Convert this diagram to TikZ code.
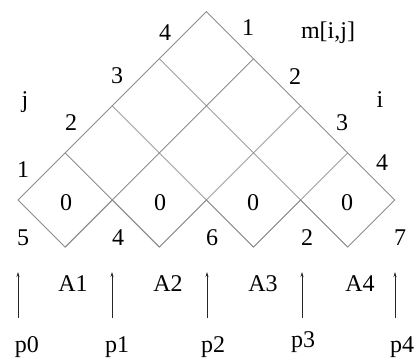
\documentclass[tikz,border=0pt]{standalone}
\usepackage{fontspec}
\setmainfont{Liberation Serif}
\usetikzlibrary{arrows.meta}
\begin{document}
\begin{tikzpicture}[x=1pt,y=-1pt,
  gridline/.style={draw=black!45,line width=0.8pt},
  lbl/.style={font=\fontsize{24}{26}\selectfont,inner sep=0pt,text=black},
  parrow/.style={draw=black!85,line width=1pt,-{Stealth[length=5pt,width=3pt]}}]
\useasboundingbox (0,0) rectangle (418,361);
% grid vertices: (18+47.1u, 200-47.1v)
\foreach \u/\v/\n in {0/0/a0,1/-1/b1,2/0/a2,3/-1/b3,4/0/a4,5/-1/b5,6/0/a6,7/-1/b7,8/0/a8,
  1/1/l1,2/2/l2,3/3/l3,4/4/top,5/3/r3,6/2/r2,7/1/r1}
  \coordinate (\n) at ({18+47.1*\u},{200-47.1*\v});
% outline and zigzag
\draw[gridline] (a0) -- (top) -- (a8) -- (b7) -- (a6) -- (b5) -- (a4) -- (b3) -- (a2) -- (b1) -- cycle;
% interior lines
\draw[gridline] (b1) -- (r3);
\draw[gridline] (b3) -- (r2);
\draw[gridline] (b5) -- (r1);
\draw[gridline] (l1) -- (b3);
\draw[gridline] (l2) -- (b5);
\draw[gridline] (l3) -- (b7);
% left labels
\node[lbl] (jl) at (25,102) {j};
\node[lbl] (j1) at (23,170) {1};
\node[lbl] (j2) at (71,123) {2};
\node[lbl] (j3) at (117,76) {3};
\node[lbl] (j4) at (165,33) {4};
% right labels
\node[lbl] (il) at (380,100) {i};
\node[lbl] (mij) at (328,33) {m[i,j]};
\node[lbl] (i1) at (248,28) {1};
\node[lbl] (i2) at (295,77) {2};
\node[lbl] (i3) at (342,123) {3};
\node[lbl] (i4) at (382,163) {4};
% zeros
\node[lbl] (z1) at (66,203) {0};
\node[lbl] (z2) at (160,203) {0};
\node[lbl] (z3) at (253,203) {0};
\node[lbl] (z4) at (347,203) {0};
% dimensions
\node[lbl] (d0) at (23,238) {5};
\node[lbl] (d1) at (118,238) {4};
\node[lbl] (d2) at (212,238) {6};
\node[lbl] (d3) at (307,238) {2};
\node[lbl] (d4) at (400,238) {7};
% matrices
\node[lbl] (A1) at (73,284) {A1};
\node[lbl] (A2) at (168,284) {A2};
\node[lbl] (A3) at (263,284) {A3};
\node[lbl] (A4) at (360,284) {A4};
% p labels
\node[lbl] (p0) at (27,347) {p0};
\node[lbl] (p1) at (117,347) {p1};
\node[lbl] (p2) at (213,347) {p2};
\node[lbl] (p3) at (303,342) {p3};
\node[lbl] (p4) at (402,347) {p4};
% arrows
\foreach \x/\n in {18/0,112/1,207/2,302/3,395/4}{
  \coordinate (s\n) at (\x,318);
  \coordinate (e\n) at (\x,272);
  \draw[parrow] (s\n) -- (e\n);
}
\end{tikzpicture}
\end{document}
